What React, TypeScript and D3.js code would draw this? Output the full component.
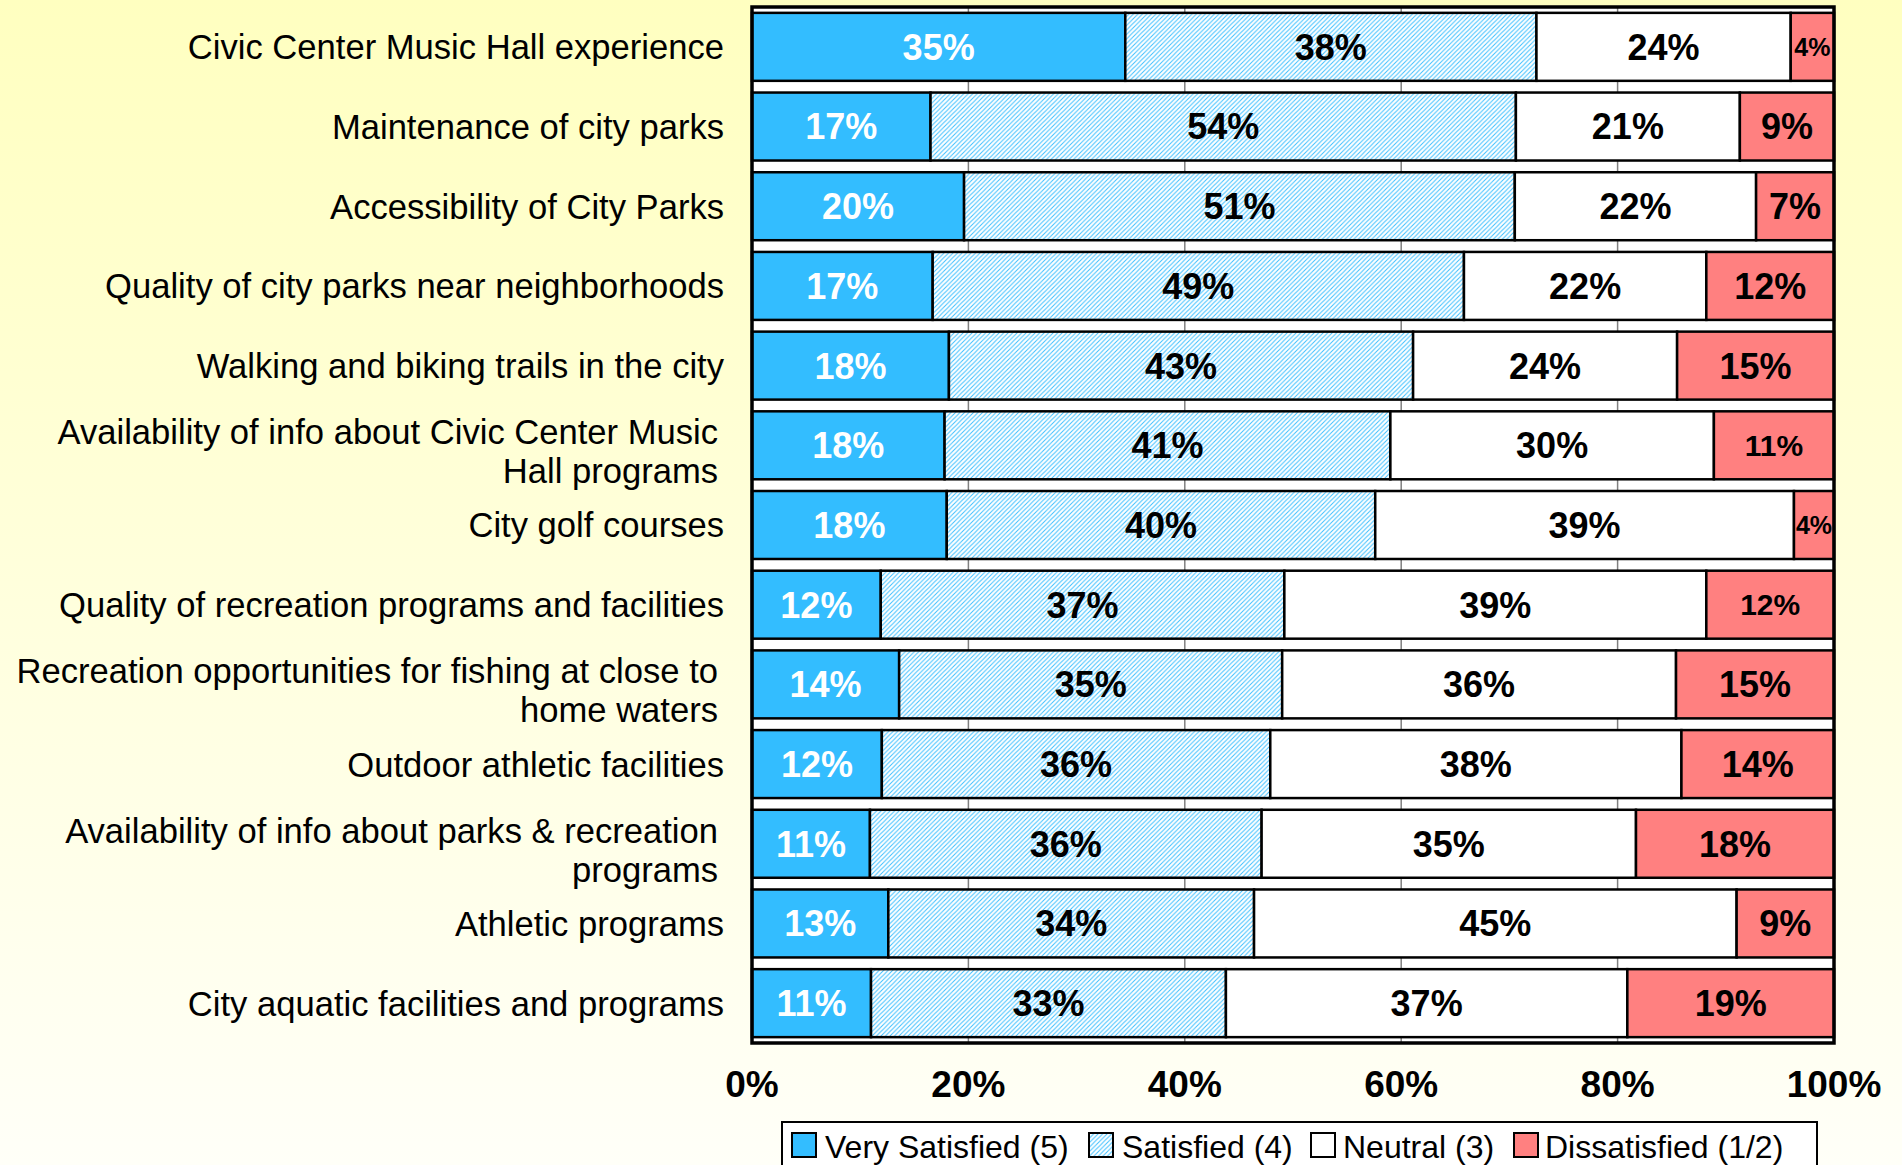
import React from "react";
import * as d3 from "d3";

const categories: string[][] = [
  ["Civic Center Music Hall experience"],
  ["Maintenance of city parks"],
  ["Accessibility of City Parks"],
  ["Quality of city parks near neighborhoods"],
  ["Walking and biking trails in the city"],
  ["Availability of info about Civic Center Music", "Hall programs"],
  ["City golf courses"],
  ["Quality of recreation programs and facilities"],
  ["Recreation opportunities for fishing at close to", "home waters"],
  ["Outdoor athletic facilities"],
  ["Availability of info about parks & recreation", "programs"],
  ["Athletic programs"],
  ["City aquatic facilities and programs"],
];

const verySatisfied = [34.5, 16.5, 19.6, 16.7, 18.2, 17.8, 18.0, 11.9, 13.6, 12.0, 10.9, 12.6, 11.0];
const satisfied = [38.0, 54.1, 50.9, 49.1, 42.9, 41.2, 39.6, 37.3, 35.4, 35.9, 36.2, 33.8, 32.8];
const neutral = [23.5, 20.7, 22.3, 22.4, 24.4, 29.9, 38.7, 39.0, 36.4, 38.0, 34.6, 44.6, 37.1];
const dissatisfied = [4.0, 8.7, 7.2, 11.8, 14.5, 11.1, 3.7, 11.8, 14.6, 14.1, 18.3, 9.0, 19.1];

const seriesNames = ["Very Satisfied (5)", "Satisfied (4)", "Neutral (3)", "Dissatisfied (1/2)"];
const xTicks = [0, 20, 40, 60, 80, 100];

const W = 1902;
const H = 1165;
const FONT = "'Liberation Sans', Arial, Helvetica, sans-serif";

const plot = { left: 752, right: 1834, top: 7, bottom: 1043 };

// cells drawn with smaller labels in the original
const smallLabel: Record<string, number> = {
  "0-3": 25,
  "5-3": 30,
  "6-3": 25,
  "7-3": 30,
};

export default function App() {
  const allSeries = [verySatisfied, satisfied, neutral, dissatisfied];
  const x = d3.scaleLinear().domain([0, 100]).range([plot.left, plot.right]);
  const y = d3
    .scaleBand<number>()
    .domain(d3.range(categories.length))
    .range([plot.top, plot.bottom])
    .paddingInner(0.147)
    .paddingOuter(0.0735);

  const fills = ["#33BDFF", "url(#hatch)", "#FFFFFF", "#FF8080"];
  const textColors = ["#FFFFFF", "#000000", "#000000", "#000000"];

  const legendItems = [
    { sq: 792, tx: 825 },
    { sq: 1089, tx: 1122 },
    { sq: 1311, tx: 1343 },
    { sq: 1514, tx: 1545 },
  ];

  return (
    <svg width={W} height={H} style={{ position: "absolute", left: 0, top: 0 }} fontFamily={FONT}>
      <defs>
        <linearGradient id="bg" x1="0" y1="0" x2="0" y2="1">
          <stop offset="0%" stopColor="#FFFFC0" />
          <stop offset="100%" stopColor="#FFFFF8" />
        </linearGradient>
        <pattern id="hatch" patternUnits="userSpaceOnUse" width="4.5" height="4.5">
          <rect width="4.5" height="4.5" fill="#FFFFFF" />
          <path d="M-1,1 l2,-2 M0,4.5 l4.5,-4.5 M3.5,5.5 l2,-2" stroke="#3DC0FF" strokeWidth="1" />
        </pattern>
      </defs>
      <rect x={0} y={0} width={W} height={H} fill="url(#bg)" />
      <rect
        x={plot.left}
        y={plot.top}
        width={plot.right - plot.left}
        height={plot.bottom - plot.top}
        fill="#FFFFFF"
      />
      {xTicks.slice(1, -1).map((t) => (
        <line key={t} x1={x(t)} x2={x(t)} y1={plot.top} y2={plot.bottom} stroke="#808080" strokeWidth={1.5} />
      ))}
      {categories.map((cat, i) => {
        let acc = 0;
        const y0 = y(i)!;
        const bh = y.bandwidth();
        return (
          <g key={i}>
            {allSeries.map((s, j) => {
              const v = s[i];
              const x0 = x(acc);
              acc += v;
              const x1 = x(acc);
              const fs = smallLabel[`${i}-${j}`] ?? 36;
              return (
                <g key={j}>
                  <rect x={x0} y={y0} width={x1 - x0} height={bh} fill={fills[j]} stroke="#000" strokeWidth={2.5} />
                  <text
                    x={(x0 + x1) / 2}
                    y={y0 + bh / 2}
                    dy="0.36em"
                    textAnchor="middle"
                    fontWeight="bold"
                    fontSize={fs}
                    fill={textColors[j]}
                  >
                    {Math.round(v) + "%"}
                  </text>
                </g>
              );
            })}
            {cat.map((line, k) => {
              const n = cat.length;
              const cy = y0 + bh / 2 + (n > 1 ? 6 : 0) + (k - (n - 1) / 2) * 39;
              return (
                <text
                  key={k}
                  x={n > 1 ? 718 : 724}
                  y={cy}
                  dy="0.36em"
                  textAnchor="end"
                  fontSize={34.6}
                  fill="#000"
                >
                  {line}
                </text>
              );
            })}
          </g>
        );
      })}
      <rect
        x={plot.left}
        y={plot.top}
        width={plot.right - plot.left}
        height={plot.bottom - plot.top}
        fill="none"
        stroke="#000"
        strokeWidth={3.5}
      />
      {xTicks.map((t) => (
        <text key={t} x={x(t)} y={1084} dy="0.36em" textAnchor="middle" fontWeight="bold" fontSize={37} fill="#000">
          {t + "%"}
        </text>
      ))}
      <rect x={782} y={1122} width={1035} height={60} fill="#FFFFFF" stroke="#000" strokeWidth={2} />
      {seriesNames.map((name, j) => (
        <g key={name}>
          <rect
            x={legendItems[j].sq}
            y={1133}
            width={24}
            height={24}
            fill={fills[j]}
            stroke="#000"
            strokeWidth={2}
          />
          <text x={legendItems[j].tx} y={1146} dy="0.36em" fontSize={32} fill="#000">
            {name}
          </text>
        </g>
      ))}
    </svg>
  );
}
